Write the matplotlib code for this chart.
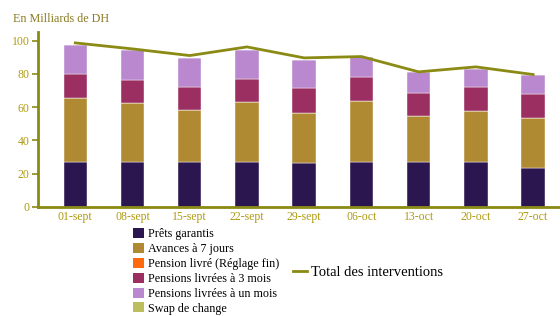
import numpy as np
import matplotlib.pyplot as plt
from matplotlib.patches import Patch
from matplotlib.lines import Line2D

plt.rcParams['font.family'] = ['Liberation Serif', 'DejaVu Serif']

dates = ['01-sept', '08-sept', '15-sept', '22-sept', '29-sept',
         '06-oct', '13-oct', '20-oct', '27-oct']

# Montants en milliards de DH
prets_garantis = [27.0, 27.0, 27.0, 27.0, 26.2, 26.8, 26.8, 26.8, 23.2]
avances_7j = [38.4, 35.4, 31.2, 36.2, 30.2, 36.6, 27.8, 30.8, 30.0]
pension_fin = [0, 0, 0, 0, 0, 0, 0, 0, 0]
pensions_3m = [14.6, 14.0, 13.8, 13.8, 15.0, 14.6, 13.6, 14.4, 14.4]
pensions_1m = [17.4, 18.2, 17.8, 17.6, 17.0, 12.0, 12.8, 11.0, 11.8]
swap_change = [0, 0, 0, 0, 0, 0, 0, 0, 0]
total = [98.6, 95.0, 91.0, 96.2, 89.6, 90.4, 81.2, 84.2, 79.6]

series = [
    ('Prêts garantis', prets_garantis, '#2b164f'),
    ('Avances à 7 jours', avances_7j, '#b08933'),
    ('Pension livré (Réglage fin)', pension_fin, '#ff6a0d'),
    ('Pensions livrées à 3 mois', pensions_3m, '#9b2f62'),
    ('Pensions livrées à un mois', pensions_1m, '#b988cf'),
    ('Swap de change', swap_change, '#bcbd5c'),
]

olive = '#8a8a14'
label_col = '#b09a10'

fig = plt.figure(figsize=(5.6, 3.16), dpi=100)
ax = fig.add_axes([0.068, 0.345, 0.932, 0.555])

x = np.arange(len(dates))
bottom = np.zeros(len(dates))
for name, vals, col in series:
    ax.bar(x, vals, width=0.41, bottom=bottom, color=col, edgecolor='white', linewidth=0.3)
    bottom += np.array(vals)

ax.plot(x, total, color=olive, linewidth=2)

ax.set_xlim(-0.65, 8.47)
ax.set_ylim(0, 105.4)
ax.set_yticks([0, 20, 40, 60, 80, 100])
ax.set_xticks(x)
ax.set_xticklabels(dates)
ax.tick_params(axis='x', length=0, colors=label_col, labelsize=8.5, pad=3)
ax.tick_params(axis='y', length=4, width=1.2, color=olive, colors=label_col, labelsize=8.5, pad=2)
for lab in ax.get_yticklabels() + ax.get_xticklabels():
    lab.set_color(label_col)
for s in ['top', 'right']:
    ax.spines[s].set_visible(False)
for s in ['left', 'bottom']:
    ax.spines[s].set_color(olive)
    ax.spines[s].set_linewidth(2)

fig.text(0.023, 0.93, 'En Milliards de DH', color='#8a7a20', fontsize=8.7)

handles = [Patch(facecolor=c, edgecolor='none') for _, _, c in series]
fig.legend(handles, [n for n, _, _ in series], loc='upper left',
           bbox_to_anchor=(0.238, 0.278), frameon=False, fontsize=8.7,
           handlelength=0.9, handleheight=0.9, handletextpad=0.3,
           labelspacing=0.22, borderpad=0, borderaxespad=0)

fig.legend([Line2D([0], [0], color=olive, linewidth=2)], ['Total des interventions'],
           loc='center left', bbox_to_anchor=(0.523, 0.137), frameon=False,
           fontsize=10.5, handlelength=1.0, handletextpad=0.25,
           borderpad=0, borderaxespad=0)

fig.savefig('out.png', dpi=100)
